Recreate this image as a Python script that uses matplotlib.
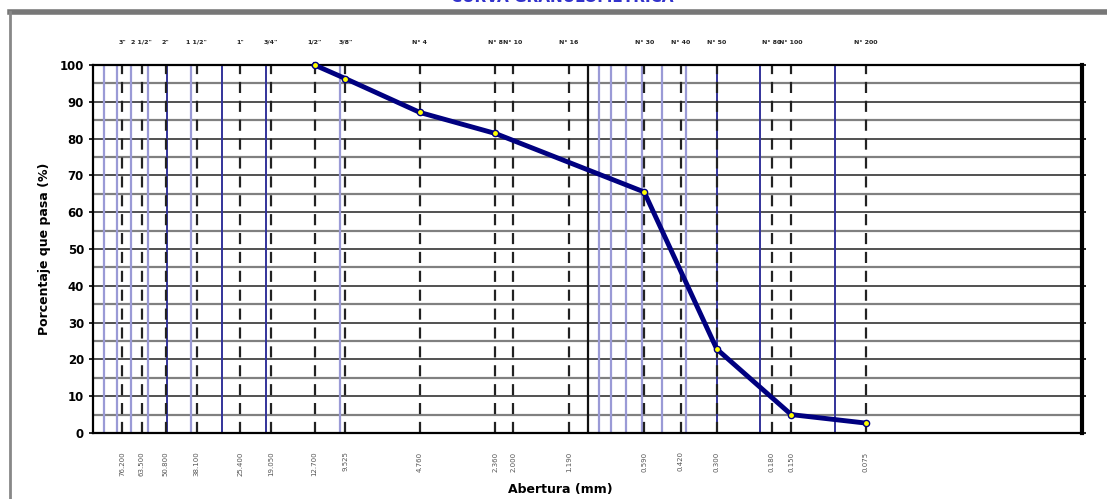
import numpy as np
import matplotlib
matplotlib.use("Agg")
import matplotlib.pyplot as plt
from matplotlib.lines import Line2D

# sieve data
sieve_names = ['3"', '2 1/2"', '2"', '1 1/2"', '1"', '3/4"', '1/2"', '3/8"', 'N° 4',
               'N° 8', 'N° 10', 'N° 16', 'N° 30', 'N° 40', 'N° 50', 'N° 80', 'N° 100', 'N° 200']
sieve_mm = [76.2, 63.5, 50.8, 38.1, 25.4, 19.05, 12.7, 9.525, 4.76,
            2.36, 2.0, 1.19, 0.59, 0.42, 0.3, 0.18, 0.15, 0.075]
sieve_labels = ['76.200', '63.500', '50.800', '38.100', '25.400', '19.050', '12.700', '9.525', '4.760',
                '2.360', '2.000', '1.190', '0.590', '0.420', '0.300', '0.180', '0.150', '0.075']

# grading curve
curve_mm = [12.7, 9.525, 4.76, 2.36, 0.59, 0.3, 0.15, 0.075]
curve_pct = [100, 96.3, 87.1, 81.4, 65.5, 22.8, 5.0, 2.7]

# log grid lines
light_blue = [90, 80, 70, 60, 40, 10, 0.9, 0.8, 0.7, 0.6, 0.5, 0.4]
dark_blue = [50, 30, 20, 0.3, 0.2, 0.1]
black_solid = [1.0]

fig = plt.figure(figsize=(11.07, 4.99), dpi=100)
ax = fig.add_axes([93/1107, 1-433/499, (1082-93)/1107, (433-65)/499])

ax.set_xscale('log')
ax.set_xlim(100, 0.01)
ax.set_ylim(0, 100)

# horizontal grid
for v in range(5, 100, 5):
    if v % 10 == 0:
        ax.axhline(v, color='#222222', lw=1.1, zorder=1)
    else:
        ax.axhline(v, color='#808080', lw=1.6, zorder=1)

for v in light_blue:
    ax.axvline(v, color='#9a9ad6', lw=1.6, zorder=1)
for v in dark_blue:
    ax.axvline(v, color='#33339a', lw=1.4, zorder=1)
for v in black_solid:
    ax.axvline(v, color='#111111', lw=1.6, zorder=1)

for v in sieve_mm:
    ax.axvline(v, color='#222222', lw=1.6, ls=(0, (5, 3.5)), zorder=2)

ax.plot(curve_mm, curve_pct, color='#000080', lw=3.5, marker='o', ms=4.5,
        markerfacecolor='#ffff00', markeredgecolor='#000080', markeredgewidth=1, zorder=5,
        clip_on=False)

ax.set_xticks([])
ax.set_xticks([], minor=True)
ax.set_yticks(range(0, 101, 10))
ax.set_yticklabels([str(v) for v in range(0, 101, 10)], fontsize=8.5, fontweight='bold')
ax.tick_params(axis='y', length=3, width=1.2, right=True, direction='out')
for s in ['left', 'bottom', 'top']:
    ax.spines[s].set_linewidth(1.6)
ax.spines['right'].set_linewidth(3)

for name, mm, lab in zip(sieve_names, sieve_mm, sieve_labels):
    ax.text(mm, 1.055, name, transform=ax.get_xaxis_transform(), ha='center', va='bottom',
            fontsize=4.5, fontweight='bold', color='#222222')
    ax.text(mm, -0.05, lab, transform=ax.get_xaxis_transform(), ha='center', va='top',
            rotation=90, fontsize=5, color='#555555')

ax.set_ylabel('Porcentaje que pasa (%)', fontsize=9, fontweight='bold', labelpad=6)
fig.text(560/1107, 1-490/499, 'Abertura (mm)', ha='center', va='center', fontsize=9, fontweight='bold')

# frame and cut-off title
fig.add_artist(Line2D([10/1107, 1], [1-12/499, 1-12/499], color='#777777', lw=4))
fig.add_artist(Line2D([10/1107, 10/1107], [0, 1-12/499], color='#888888', lw=2))
fig.text(562/1107, 1.005, 'CURVA GRANULOMETRICA', ha='center', va='center', fontsize=11,
         fontweight='bold', color='#3333cc')

fig.savefig('out.png', dpi=100)
